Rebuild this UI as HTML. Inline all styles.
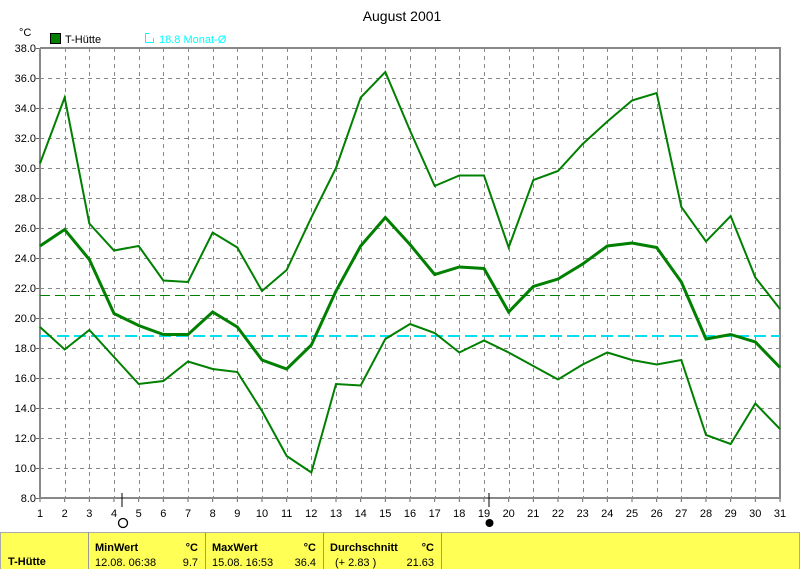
<!DOCTYPE html>
<html><head><meta charset="utf-8"><style>
body{margin:0;background:#fff;width:800px;height:569px;overflow:hidden;font-family:"Liberation Sans",sans-serif}
svg text{font-family:"Liberation Sans",sans-serif;font-size:11px}
</style></head><body>
<svg id="s" width="800" height="569" xmlns="http://www.w3.org/2000/svg">
<text x="402" y="21" font-size="14" text-anchor="middle" style="font-size:14px">August 2001</text>
<text x="19" y="36">°C</text>
<rect x="50.5" y="33.5" width="10" height="10" fill="#008000" stroke="#000"/>
<text x="65" y="43">T-Hütte</text>
<rect x="145.5" y="33.5" width="8" height="9" fill="none" stroke="#00ffff"/>
<rect x="149" y="31" width="6" height="7" fill="#fff"/>
<text x="159" y="43" fill="#00ffff">18.8 Monat-Ø</text>
<g id="grid"></g>
<g text-anchor="end">
<text x="36" y="52">38.0</text><text x="36" y="82">36.0</text><text x="36" y="112">34.0</text><text x="36" y="142">32.0</text><text x="36" y="172">30.0</text><text x="36" y="202">28.0</text><text x="36" y="232">26.0</text><text x="36" y="262">24.0</text><text x="36" y="292">22.0</text><text x="36" y="322">20.0</text><text x="36" y="352">18.0</text><text x="36" y="382">16.0</text><text x="36" y="412">14.0</text><text x="36" y="442">12.0</text><text x="36" y="472">10.0</text><text x="36" y="502">8.0</text>
</g>
<g text-anchor="middle">
<text x="40" y="517">1</text><text x="64.7" y="517">2</text><text x="89.3" y="517">3</text><text x="114" y="517">4</text><text x="138.7" y="517">5</text><text x="163.3" y="517">6</text><text x="188" y="517">7</text><text x="212.7" y="517">8</text><text x="237.3" y="517">9</text><text x="262" y="517">10</text><text x="286.7" y="517">11</text><text x="311.3" y="517">12</text><text x="336" y="517">13</text><text x="360.7" y="517">14</text><text x="385.3" y="517">15</text><text x="410" y="517">16</text><text x="434.7" y="517">17</text><text x="459.3" y="517">18</text><text x="484" y="517">19</text><text x="508.7" y="517">20</text><text x="533.3" y="517">21</text><text x="558" y="517">22</text><text x="582.7" y="517">23</text><text x="607.3" y="517">24</text><text x="632" y="517">25</text><text x="656.7" y="517">26</text><text x="681.3" y="517">27</text><text x="706" y="517">28</text><text x="730.7" y="517">29</text><text x="755.3" y="517">30</text><text x="780" y="517">31</text>
</g>
<line x1="122" y1="493" x2="122" y2="507" stroke="#000"/>
<circle cx="123" cy="523" r="4.5" fill="none" stroke="#000" stroke-width="1.3"/>
<line x1="489" y1="493" x2="489" y2="507" stroke="#000"/>
<circle cx="489.5" cy="523" r="4" fill="#000"/>
<rect x="0.5" y="532.5" width="799" height="40" fill="#ffff55" stroke="#aaa"/>
<line x1="88.5" y1="532" x2="88.5" y2="569" stroke="#999"/>
<line x1="205.5" y1="532" x2="205.5" y2="569" stroke="#999"/>
<line x1="323.5" y1="532" x2="323.5" y2="569" stroke="#999"/>
<line x1="441.5" y1="532" x2="441.5" y2="569" stroke="#999"/>
<g font-weight="bold"><text x="8" y="565" style="font-weight:bold">T-Hütte</text>
<text x="95" y="551" style="font-weight:bold">MinWert</text><text x="198" y="551" text-anchor="end" style="font-weight:bold">°C</text>
<text x="212" y="551" style="font-weight:bold">MaxWert</text><text x="316" y="551" text-anchor="end" style="font-weight:bold">°C</text>
<text x="330" y="551" style="font-weight:bold">Durchschnitt</text><text x="434" y="551" text-anchor="end" style="font-weight:bold">°C</text></g>
<text x="95" y="566">12.08.  06:38</text><text x="198" y="566" text-anchor="end">9.7</text>
<text x="212" y="566">15.08.  16:53</text><text x="316" y="566" text-anchor="end">36.4</text>
<text x="335" y="566">(+ 2.83 )</text><text x="434" y="566" text-anchor="end">21.63</text>
<g id="data"></g>
</svg>
<script>
var NS="http://www.w3.org/2000/svg";
function X(d){return 40+(d-1)*740/30}function Y(v){return 48+(38-v)*15}
function el(p,t,a){var e=document.createElementNS(NS,t);for(var k in a)e.setAttribute(k,a[k]);p.appendChild(e);return e}
var g=document.getElementById('grid');
for(var d=2;d<=30;d++){var xx=Math.round(X(d))+0.5;el(g,'line',{x1:xx,y1:48,x2:xx,y2:498,stroke:'#888','stroke-dasharray':'4,4'});}
for(var v=10;v<38;v+=2)el(g,'line',{x1:40,y1:Y(v)+0.5,x2:780,y2:Y(v)+0.5,stroke:'#888','stroke-dasharray':'4,4'});
for(var v=8;v<=38;v+=2)el(g,'line',{x1:36,y1:Y(v)+0.5,x2:40,y2:Y(v)+0.5,stroke:'#666'});
for(var d=1;d<=31;d++)el(g,'line',{x1:X(d),y1:498,x2:X(d),y2:502,stroke:'#666'});
el(g,'polyline',{points:"40,48 780,48 780,498 40,498 40,48",fill:'none',stroke:'#888','stroke-width':2});
var dg=document.getElementById('data');
el(dg,'line',{x1:40,y1:295.5,x2:780,y2:295.5,stroke:'#008000','stroke-dasharray':'10,5'});
el(dg,'line',{x1:40,y1:Y(18.8),x2:780,y2:Y(18.8),stroke:'#00e0f0','stroke-width':2,'stroke-dasharray':'12,5'});
var mx=[30.3,34.7,26.3,24.5,24.8,22.5,22.4,25.7,24.7,21.8,23.2,26.7,30.0,34.7,36.4,32.5,28.8,29.5,29.5,24.7,29.2,29.8,31.6,33.1,34.5,35.0,27.4,25.1,26.8,22.7,20.6];
var mn=[24.8,25.9,23.9,20.3,19.5,18.9,18.9,20.4,19.4,17.2,16.6,18.2,21.8,24.8,26.7,24.9,22.9,23.4,23.3,20.4,22.1,22.6,23.6,24.8,25.0,24.7,22.4,18.6,18.9,18.4,16.7];
var mi=[19.4,17.9,19.2,17.4,15.6,15.8,17.1,16.6,16.4,13.8,10.8,9.7,15.6,15.5,18.6,19.6,19.0,17.7,18.5,17.7,16.8,15.9,16.9,17.7,17.2,16.9,17.2,12.2,11.6,14.3,12.6];
function pl(a,w){el(dg,'polyline',{points:a.map(function(v,i){return X(i+1)+','+Y(v)}).join(' '),fill:'none',stroke:'#008000','stroke-width':w})}
pl(mx,2);pl(mi,2);pl(mn,3);
</script>
</body></html>
